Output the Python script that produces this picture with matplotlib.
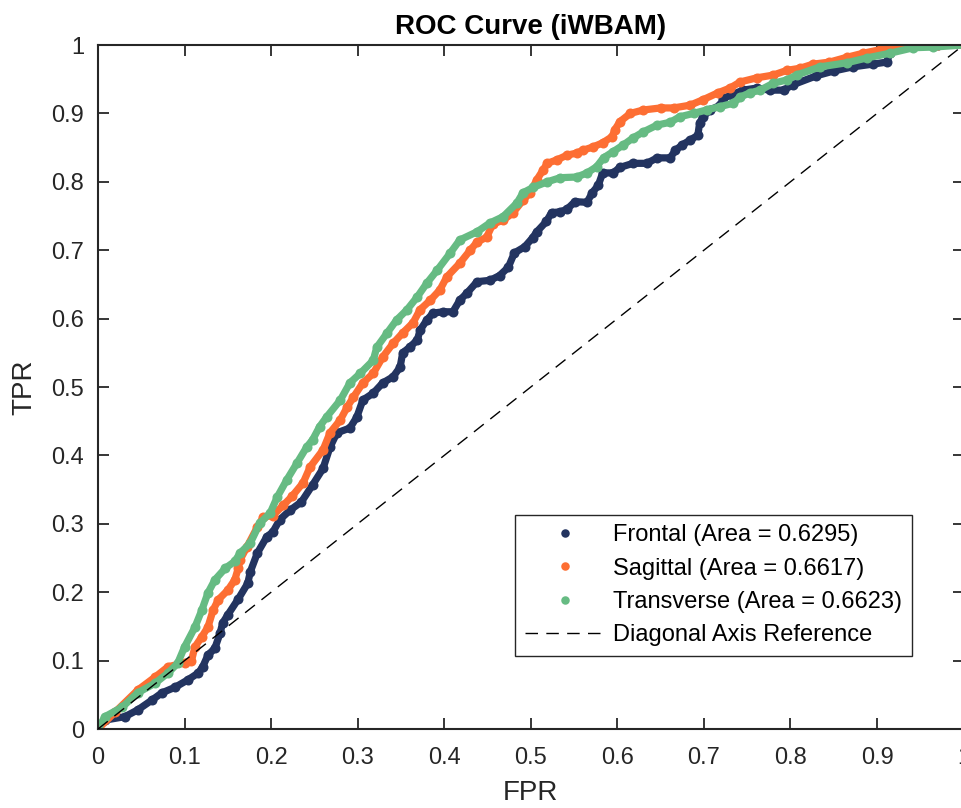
import numpy as np
import matplotlib
matplotlib.use("Agg")
import matplotlib.pyplot as plt

plt.rcParams['font.family'] = ['Liberation Sans', 'DejaVu Sans']

# values (FPR, TPR)
frontal_fpr = [0, 0.008, 0.031, 0.046, 0.062, 0.074, 0.089, 0.104, 0.116, 0.121, 0.127, 0.135,
               0.141, 0.144, 0.15, 0.162, 0.173, 0.176, 0.184, 0.195, 0.202, 0.21, 0.222, 0.235,
               0.248, 0.26, 0.268, 0.276, 0.291, 0.299, 0.306, 0.318, 0.329, 0.341, 0.349, 0.352,
               0.36, 0.369, 0.372, 0.38, 0.387, 0.399, 0.41, 0.418, 0.426, 0.438, 0.453, 0.464,
               0.474, 0.481, 0.493, 0.502, 0.507, 0.518, 0.524, 0.534, 0.542, 0.551, 0.565, 0.571,
               0.578, 0.583, 0.595, 0.603, 0.618, 0.634, 0.646, 0.661, 0.667, 0.675, 0.684, 0.693,
               0.695, 0.699, 0.707, 0.719, 0.722, 0.732, 0.745, 0.761, 0.776, 0.792, 0.803, 0.83,
               0.85, 0.872, 0.895, 0.911, 0.915, 0.923, 0.94, 0.97, 1.0]
frontal_tpr = [0, 0.013, 0.018, 0.028, 0.042, 0.053, 0.061, 0.072, 0.082, 0.091, 0.108, 0.118,
               0.14, 0.155, 0.167, 0.19, 0.213, 0.23, 0.257, 0.281, 0.288, 0.306, 0.32, 0.332,
               0.357, 0.381, 0.412, 0.433, 0.44, 0.456, 0.481, 0.491, 0.506, 0.515, 0.529, 0.55,
               0.558, 0.569, 0.583, 0.598, 0.608, 0.61, 0.61, 0.627, 0.637, 0.654, 0.656, 0.663,
               0.675, 0.696, 0.705, 0.718, 0.727, 0.742, 0.755, 0.756, 0.76, 0.771, 0.77, 0.784,
               0.795, 0.813, 0.813, 0.821, 0.827, 0.827, 0.835, 0.835, 0.846, 0.854, 0.861, 0.868,
               0.886, 0.895, 0.905, 0.912, 0.922, 0.927, 0.934, 0.937, 0.934, 0.934, 0.942, 0.955,
               0.962, 0.968, 0.972, 0.975, 0.988, 0.997, 1.0, 1.0, 1.0]

sagittal_fpr = [0, 0.02, 0.046, 0.066, 0.081, 0.1, 0.108, 0.112, 0.12, 0.127, 0.133, 0.139, 0.15,
                0.158, 0.162, 0.164, 0.172, 0.184, 0.191, 0.202, 0.214, 0.224, 0.237, 0.245, 0.26,
                0.268, 0.28, 0.288, 0.295, 0.306, 0.318, 0.329, 0.341, 0.352, 0.364, 0.372, 0.384,
                0.395, 0.403, 0.418, 0.43, 0.438, 0.449, 0.456, 0.468, 0.479, 0.491, 0.499, 0.507,
                0.514, 0.519, 0.53, 0.542, 0.553, 0.56, 0.572, 0.583, 0.594, 0.597, 0.603, 0.615,
                0.63, 0.65, 0.665, 0.684, 0.699, 0.716, 0.73, 0.742, 0.761, 0.78, 0.796, 0.811,
                0.826, 0.845, 0.865, 0.884, 0.903, 0.92, 0.935, 0.97, 1.0]
sagittal_tpr = [0, 0.025, 0.057, 0.076, 0.091, 0.097, 0.1, 0.12, 0.135, 0.149, 0.174, 0.189, 0.203,
                0.218, 0.235, 0.247, 0.266, 0.295, 0.31, 0.312, 0.327, 0.34, 0.36, 0.383, 0.408,
                0.433, 0.452, 0.471, 0.485, 0.506, 0.52, 0.544, 0.564, 0.579, 0.594, 0.613, 0.627,
                0.642, 0.661, 0.681, 0.7, 0.712, 0.719, 0.738, 0.744, 0.754, 0.773, 0.784, 0.803,
                0.817, 0.827, 0.832, 0.839, 0.842, 0.846, 0.851, 0.857, 0.866, 0.876, 0.888, 0.9,
                0.905, 0.908, 0.908, 0.912, 0.92, 0.93, 0.937, 0.946, 0.952, 0.956, 0.963, 0.966,
                0.972, 0.975, 0.982, 0.988, 0.993, 0.997, 1.0, 1.0, 1.0]

transverse_fpr = [0, 0.008, 0.028, 0.046, 0.066, 0.081, 0.092, 0.1, 0.112, 0.12, 0.127, 0.135,
                  0.147, 0.158, 0.164, 0.176, 0.187, 0.199, 0.207, 0.218, 0.23, 0.241, 0.248, 0.256,
                  0.264, 0.28, 0.291, 0.303, 0.318, 0.322, 0.334, 0.345, 0.357, 0.369, 0.38, 0.392,
                  0.407, 0.418, 0.438, 0.453, 0.468, 0.484, 0.491, 0.503, 0.519, 0.534, 0.553, 0.565,
                  0.576, 0.584, 0.595, 0.607, 0.618, 0.63, 0.646, 0.661, 0.672, 0.688, 0.703, 0.719,
                  0.734, 0.742, 0.753, 0.765, 0.78, 0.796, 0.807, 0.834, 0.865, 0.888, 0.915, 0.942,
                  0.965, 1.0]
transverse_tpr = [0, 0.018, 0.032, 0.053, 0.067, 0.082, 0.096, 0.12, 0.149, 0.174, 0.199, 0.218,
                  0.235, 0.245, 0.257, 0.272, 0.301, 0.316, 0.339, 0.364, 0.389, 0.412, 0.423, 0.442,
                  0.456, 0.481, 0.506, 0.52, 0.539, 0.558, 0.579, 0.598, 0.613, 0.632, 0.652, 0.671,
                  0.696, 0.715, 0.727, 0.74, 0.749, 0.769, 0.784, 0.792, 0.8, 0.806, 0.807, 0.813,
                  0.822, 0.835, 0.844, 0.854, 0.864, 0.873, 0.883, 0.887, 0.895, 0.9, 0.905, 0.91,
                  0.915, 0.924, 0.93, 0.934, 0.944, 0.949, 0.956, 0.968, 0.974, 0.981, 0.988, 0.996,
                  0.997, 1.0]

labels = ['Frontal (Area = 0.6295)', 'Sagittal (Area = 0.6617)', 'Transverse (Area = 0.6623)']
colors = ['#233460', '#FD6E33', '#66BB83']
ticks = np.arange(0, 1.01, 0.1)
tick_labels = ['0', '0.1', '0.2', '0.3', '0.4', '0.5', '0.6', '0.7', '0.8', '0.9', '1']

fig = plt.figure(figsize=(9.62, 8.08), dpi=100)
ax = fig.add_axes([98 / 962, 79 / 808, 865.6 / 962, 684 / 808])

series = [(frontal_fpr, frontal_tpr), (sagittal_fpr, sagittal_tpr), (transverse_fpr, transverse_tpr)]
handles = []
for (x, y), c, lab in zip(series, colors, labels):
    ax.plot(x, y, '-', color=c, lw=5.2, solid_capstyle='round', solid_joinstyle='round', zorder=2)
    h, = ax.plot(x, y, 'o', color=c, ms=7.2, mec='none', label=lab, zorder=2)
    handles.append(h)

diag, = ax.plot([0, 1], [0, 1], color='black', lw=1.0, ls=(0, (9, 6)),
                label='Diagonal Axis Reference', zorder=3)
handles.append(diag)

ax.set_xlim(0, 1)
ax.set_ylim(0, 1)
ax.set_xticks(ticks)
ax.set_xticklabels(tick_labels)
ax.set_yticks(ticks)
ax.set_yticklabels(tick_labels)
ax.tick_params(direction='in', length=8, width=1.3, top=True, right=True,
               labelsize=17, colors='#262626')
ax.tick_params(axis='x', pad=13)
ax.tick_params(axis='y', pad=10)
for sp in ax.spines.values():
    sp.set_linewidth(1.5)
    sp.set_color('#262626')

ax.set_xlabel('FPR', fontsize=20, color='#262626', labelpad=8)
ax.set_ylabel('TPR', fontsize=20, color='#262626', labelpad=10)
ax.set_title('ROC Curve (iWBAM)', fontsize=20, fontweight='bold', pad=8)

leg = ax.legend(handles=handles, loc='upper right', bbox_to_anchor=(0.940, 0.313),
                fontsize=17, frameon=True, fancybox=False, framealpha=1,
                edgecolor='#262626', handlelength=3.4, handletextpad=0.35,
                labelspacing=0.48, borderpad=0.4, borderaxespad=0, markerscale=0.85)
leg.get_frame().set_linewidth(1.0)

fig.savefig('out.png', dpi=100)
